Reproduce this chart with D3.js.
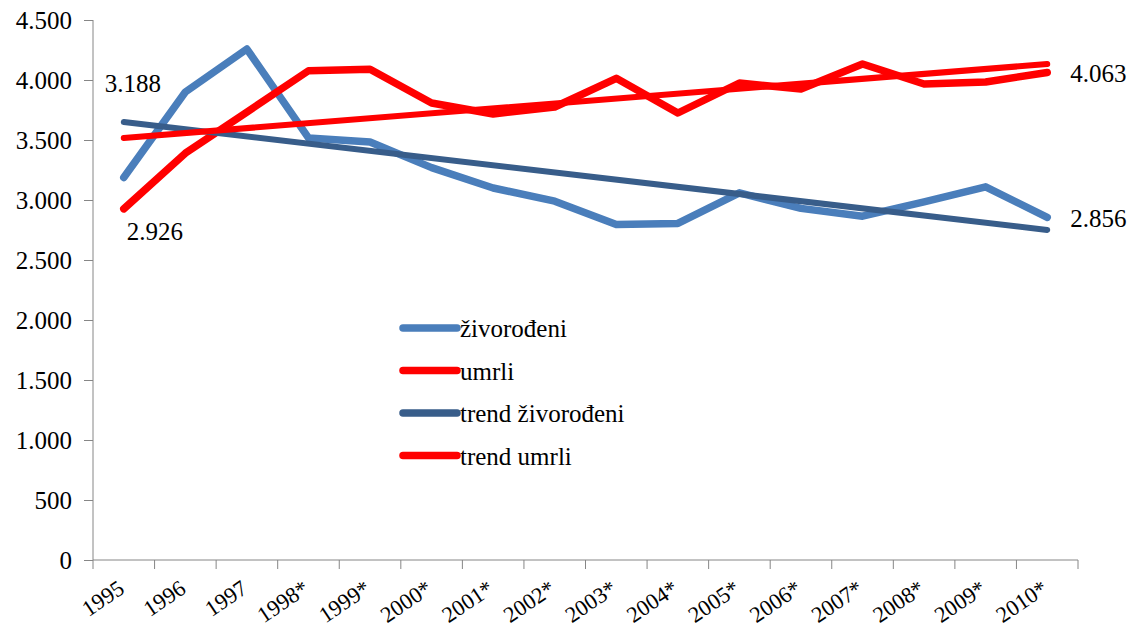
<!DOCTYPE html>
<html>
<head>
<meta charset="utf-8">
<script src="https://cdn.jsdelivr.net/npm/d3@7"></script>
<style>
  body { margin: 0; background: #fff; }
  svg text { font-family: "Liberation Serif", "Times New Roman", serif; fill: #000; }
</style>
</head>
<body>
<div id="chart"></div>
<script>
// data
var years = ["1995", "1996", "1997", "1998*", "1999*", "2000*", "2001*", "2002*",
             "2003*", "2004*", "2005*", "2006*", "2007*", "2008*", "2009*", "2010*"];
var zivorodeni = [3188, 3900, 4258, 3517, 3483, 3270, 3100, 2990,
                  2795, 2805, 3060, 2930, 2865, 2985, 3110, 2856];
var umrli = [2926, 3390, 3733, 4077, 4090, 3808, 3717, 3775,
             4014, 3725, 3975, 3925, 4133, 3967, 3983, 4063];
// trend lines: values at first and last year
var trendZivorodeni = [3650, 2750];
var trendUmrli = [3517, 4133];
var yTicks = [0, 500, 1000, 1500, 2000, 2500, 3000, 3500, 4000, 4500];

var width = 1136, height = 631;
var margin = { top: 20, right: 58, bottom: 71, left: 93 };
var w = width - margin.left - margin.right,
    h = height - margin.top - margin.bottom;

var svg = d3.select("#chart").append("svg")
    .attr("width", width)
    .attr("height", height);

var g = svg.append("g")
    .attr("transform", "translate(" + margin.left + "," + margin.top + ")");

var x = d3.scaleBand().domain(years).range([0, w]);
var y = d3.scaleLinear().domain([0, 4500]).range([h, 0]);
var cx = function(d) { return x(d) + x.bandwidth() / 2; };

var fmt = function(v) { return d3.format(",")(v).replace(/,/g, "."); };

// y axis
var yAxis = g.append("g")
    .call(d3.axisLeft(y).tickValues(yTicks).tickSize(9).tickPadding(12).tickFormat(fmt));
yAxis.selectAll("line, path").attr("stroke", "#868686");
yAxis.select(".domain").attr("d", "M0," + h + "V0");
yAxis.selectAll("text").style("font-size", "25px").attr("dy", "0.34em");

// x axis, ticks on band boundaries
var xAxis = g.append("g").attr("transform", "translate(0," + h + ")");
xAxis.append("line").attr("x1", 0).attr("x2", w).attr("stroke", "#868686");
var bounds = years.map(function(d) { return x(d); }).concat([w]);
xAxis.selectAll(".tk").data(bounds).enter().append("line")
    .attr("x1", function(d) { return d; }).attr("x2", function(d) { return d; })
    .attr("y1", 0).attr("y2", 9)
    .attr("stroke", "#868686");
xAxis.selectAll(".lbl").data(years).enter().append("text")
    .attr("transform", function(d) { return "translate(" + (cx(d) + 2) + ",32) rotate(-34)"; })
    .attr("text-anchor", "end")
    .style("font-size", "22.5px")
    .text(function(d) { return d; });

var line = d3.line()
    .x(function(d, i) { return cx(years[i]); })
    .y(function(d) { return y(d); });

// trend lines
var first = years[0], last = years[years.length - 1];
function drawTrend(vals, color) {
    g.append("line")
        .attr("x1", cx(first)).attr("y1", y(vals[0]))
        .attr("x2", cx(last)).attr("y2", y(vals[1]))
        .attr("stroke", color).attr("stroke-width", 6).attr("stroke-linecap", "round");
}

g.append("path").datum(zivorodeni)
    .attr("d", line).attr("fill", "none")
    .attr("stroke", "#4A7EBB").attr("stroke-width", 7.5)
    .attr("stroke-linejoin", "round").attr("stroke-linecap", "round");
g.append("path").datum(umrli)
    .attr("d", line).attr("fill", "none")
    .attr("stroke", "#FF0000").attr("stroke-width", 7.5)
    .attr("stroke-linejoin", "round").attr("stroke-linecap", "round");
drawTrend(trendZivorodeni, "#385D8A");
drawTrend(trendUmrli, "#FF0000");

// data labels
var labels = [
    { v: zivorodeni[0], i: 0, dx: -19, dy: -85 },
    { v: umrli[0], i: 0, dx: 3, dy: 31 },
    { v: umrli[15], i: 15, dx: 23, dy: 9.5 },
    { v: zivorodeni[15], i: 15, dx: 23, dy: 10 }
];
g.selectAll(".dl").data(labels).enter().append("text")
    .attr("x", function(d) { return cx(years[d.i]) + d.dx; })
    .attr("y", function(d) { return y(d.v) + d.dy; })
    .style("font-size", "25px")
    .text(function(d) { return fmt(d.v); });

// legend
var legend = [
    { name: "živorođeni", color: "#4A7EBB" },
    { name: "umrli", color: "#FF0000" },
    { name: "trend živorođeni", color: "#385D8A" },
    { name: "trend umrli", color: "#FF0000" }
];
var lg = svg.append("g").attr("transform", "translate(400,328)");
var row = lg.selectAll("g").data(legend).enter().append("g")
    .attr("transform", function(d, i) { return "translate(0," + (i * 42.5) + ")"; });
row.append("line").attr("x1", 3).attr("x2", 57)
    .attr("stroke", function(d) { return d.color; })
    .attr("stroke-width", 7.5).attr("stroke-linecap", "round");
row.append("text").attr("x", 60).attr("y", 9)
    .style("font-size", "25px")
    .text(function(d) { return d.name; });
</script>
</body>
</html>
